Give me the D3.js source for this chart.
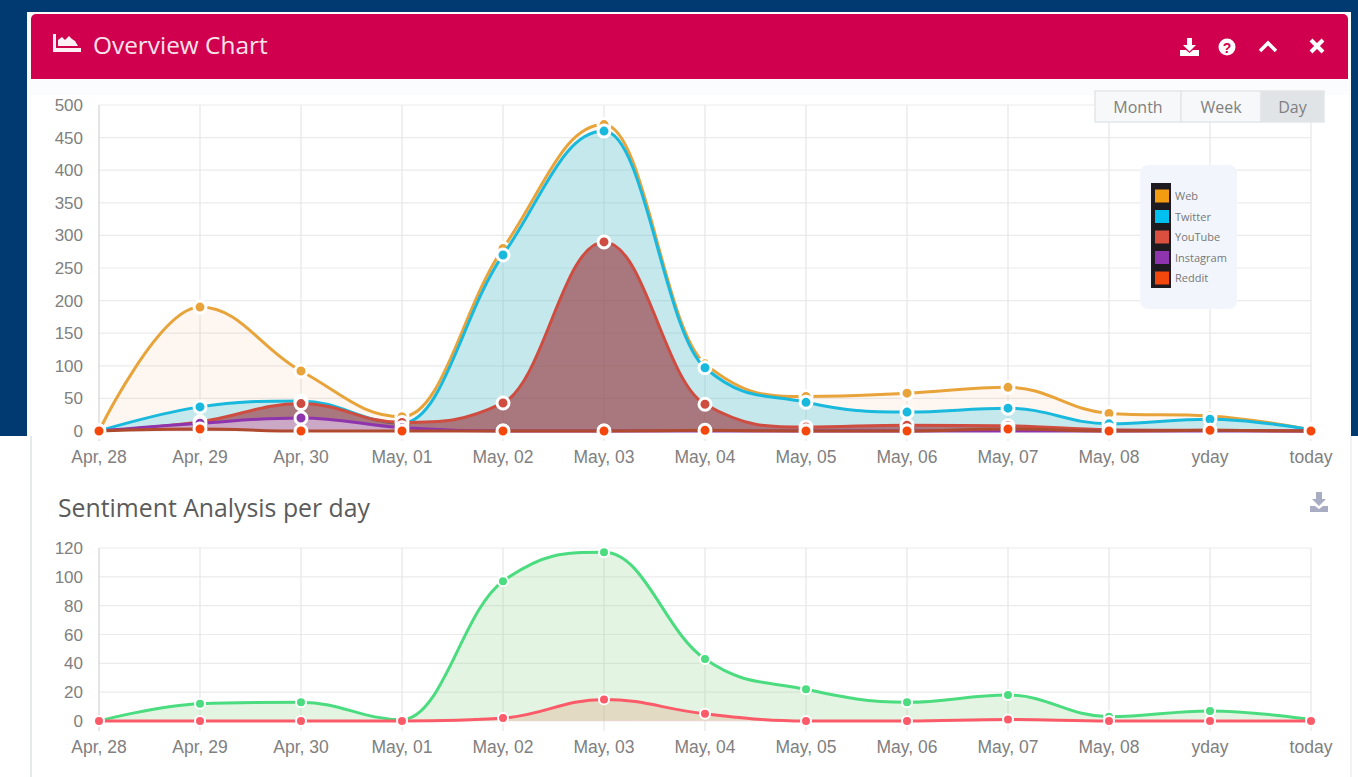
<!DOCTYPE html>
<html>
<head>
<meta charset="utf-8">
<script src="https://cdn.jsdelivr.net/npm/d3@7"></script>
<style>
    html, body { margin: 0; padding: 0; background: #fff; overflow: hidden; }
    svg { display: block; }
    .tick-label { font-family: "Liberation Sans", Arial, sans-serif; fill: #808080; }
</style>
</head>
<body>
<svg id="page" width="1358" height="777"></svg>
<script>
// x axis categories
const days = ["Apr, 28", "Apr, 29", "Apr, 30", "May, 01", "May, 02", "May, 03", "May, 04", "May, 05", "May, 06", "May, 07", "May, 08", "yday", "today"];

// overview chart values
const webValues = [0, 190, 92, 22, 280, 470, 103, 53, 58, 67, 27, 23, 2];
const twitterValues = [0, 37, 46, 12, 270, 460, 97, 44, 29, 35, 11, 18, 2];
const youtubeValues = [0, 14, 42, 13, 43, 290, 41, 6, 9, 8, 2, 1, 0];
const instagramValues = [0, 12, 20, 5, 0, 0, 0, 0, 0, 0, 0, 0, 0];
const redditValues = [0, 3, 0, 0, 0, 0, 1, 0, 0, 3, 0, 1, 0];
const overviewTicks = [0, 50, 100, 150, 200, 250, 300, 350, 400, 450, 500];

// sentiment chart values
const positiveValues = [0, 12, 13, 1, 97, 117, 43, 22, 13, 18, 3, 7, 1];
const negativeValues = [0, 0, 0, 0, 2, 15, 5, 0, 0, 1, 0, 0, 0];
const sentimentTicks = [0, 20, 40, 60, 80, 100, 120];

const legendNames = ["Web", "Twitter", "YouTube", "Instagram", "Reddit"];
const legendColors = ["#f39c12", "#00c0ef", "#d9503f", "#8e35ad", "#f4470b"];
const rangeButtons = ["Month", "Week", "Day"];

const svg = d3.select("#page");

// Same spline highcharts uses, wrapped as a d3 curve
function splineCurve(context) {
    let pts;
    return {
        areaStart() {},
        areaEnd() {},
        lineStart() { pts = []; },
        point(x, y) { pts.push([+x, +y]); },
        lineEnd() {
            const n = pts.length;
            const conts = pts.map((p, i) => {
                if (i === 0 || i === n - 1) return { lx: p[0], ly: p[1], rx: p[0], ry: p[1] };
                const [x, y] = p, [px, py] = pts[i - 1], [nx, ny] = pts[i + 1];
                const lx = (1.5 * x + px) / 2.5, rx = (1.5 * x + nx) / 2.5;
                let ly = (1.5 * y + py) / 2.5, ry = (1.5 * y + ny) / 2.5;
                const correction = (ry - ly) * (rx - x) / (rx - lx) + y - ry;
                ly += correction;
                ry += correction;
                if (ly > py && ly > y) { ly = Math.max(py, y); ry = 2 * y - ly; }
                else if (ly < py && ly < y) { ly = Math.min(py, y); ry = 2 * y - ly; }
                if (ry > ny && ry > y) { ry = Math.max(ny, y); ly = 2 * y - ry; }
                else if (ry < ny && ry < y) { ry = Math.min(ny, y); ly = 2 * y - ry; }
                return { lx, ly, rx, ry };
            });
            pts.forEach((p, i) => {
                if (i === 0) context.moveTo(p[0], p[1]);
                else context.bezierCurveTo(conts[i - 1].rx, conts[i - 1].ry, conts[i].lx, conts[i].ly, p[0], p[1]);
            });
        }
    };
}

function drawChart(top, bottom, ticks, series, marker) {
    const g = svg.append("g");
    const xScale = d3.scalePoint().domain(days).range([99, 1311]);
    const yScale = d3.scaleLinear().domain([0, d3.max(ticks)]).range([bottom, top]);

    // horizontal grid
    g.append("g").selectAll("line").data(ticks).enter().append("line")
        .attr("x1", 99).attr("x2", 1311)
        .attr("y1", d => yScale(d)).attr("y2", d => yScale(d))
        .attr("stroke", "#ebebeb").attr("stroke-width", 1.2);

    // vertical grid + tick marks
    g.append("g").selectAll("line").data(days).enter().append("line")
        .attr("x1", d => xScale(d)).attr("x2", d => xScale(d))
        .attr("y1", top).attr("y2", bottom + 10)
        .attr("stroke", (d, i) => i === 0 ? "#d2d2d2" : "#e6e6e6").attr("stroke-width", 1.2);

    g.append("g").selectAll("text").data(ticks).enter().append("text")
        .attr("class", "tick-label")
        .attr("font-size", 17)
        .attr("x", 83).attr("y", d => yScale(d) + 6)
        .attr("text-anchor", "end")
        .text(d => d);

    g.append("g").selectAll("text").data(days).enter().append("text")
        .attr("class", "tick-label")
        .attr("font-size", 17.5)
        .attr("x", d => xScale(d)).attr("y", bottom + 32)
        .attr("text-anchor", "middle")
        .text(d => d);

    const line = d3.line()
        .x((d, i) => xScale(days[i]))
        .y(d => yScale(d))
        .curve(splineCurve);

    const area = d3.area()
        .x((d, i) => xScale(days[i]))
        .y0(yScale(0))
        .y1(d => yScale(d))
        .curve(splineCurve);

    for (const s of series) {
        const sg = g.append("g");
        sg.append("path").attr("d", area(s.values))
            .attr("fill", s.fill).attr("fill-opacity", s.fillOpacity);
        sg.append("path").attr("d", line(s.values))
            .attr("fill", "none").attr("stroke", s.lineColor || s.color).attr("stroke-width", 3);
        sg.selectAll("circle").data(s.values).enter().append("circle")
            .attr("cx", (d, i) => xScale(days[i]))
            .attr("cy", d => yScale(d))
            .attr("r", marker.r)
            .attr("fill", s.color)
            .attr("stroke", "#fff").attr("stroke-width", marker.ring);
    }
}

// Page background, the screenshot is cut off at y=436 by a white block
svg.append("rect").attr("width", 1358).attr("height", 436).attr("fill", "#003a70");
svg.append("rect").attr("x", 27).attr("y", 12).attr("width", 1324).attr("height", 424).attr("fill", "#fafcfe");
svg.append("rect").attr("x", 31).attr("y", 95).attr("width", 1317).attr("height", 341).attr("fill", "#fff");
svg.append("rect").attr("x", 31).attr("y", 436).attr("width", 1320).attr("height", 341).attr("fill", "#fff");
svg.append("line").attr("x1", 31).attr("x2", 31).attr("y1", 436).attr("y2", 777).attr("stroke", "#e6e9ec").attr("stroke-width", 2);
svg.append("line").attr("x1", 1351).attr("x2", 1351).attr("y1", 436).attr("y2", 777).attr("stroke", "#f0f2f4").attr("stroke-width", 2);

// Header
svg.append("path")
    .attr("d", "M31,79V19a5,5 0 0 1 5,-5H1343a5,5 0 0 1 5,5V79Z")
    .attr("fill", "#d0004f");
svg.append("text")
    .attr("x", 93).attr("y", 54)
    .attr("font-family", "'Open Sans', sans-serif").attr("font-size", 24.4)
    .attr("fill", "#fbe3ec")
    .text("Overview Chart");

// header icons
svg.append("path").attr("d", "M53,34h3v14h25v4H53Z M58,46V40l4,-3 3,3 4,-4 3,3 3,2 3,5Z").attr("fill", "#fdf0f5");
svg.append("path").attr("d", "M1187,38h5v7h4l-6.5,6.5 -6.5,-6.5h4Z M1180,50h6l3.500,3 3.500,-3h6v6h-19Z").attr("fill", "#fff");
svg.append("circle").attr("cx", 1227).attr("cy", 47).attr("r", 8.5).attr("fill", "#fff");
svg.append("text").attr("x", 1227).attr("y", 52.500).attr("text-anchor", "middle")
    .attr("font-family", "'Liberation Sans', sans-serif").attr("font-weight", "bold").attr("font-size", 14)
    .attr("fill", "#d0004f").text("?");
svg.append("path").attr("d", "M1260,51l8,-8 8,8").attr("fill", "none").attr("stroke", "#fff").attr("stroke-width", 3.500);
svg.append("path").attr("d", "M1311,40l12,12M1323,40l-12,12").attr("fill", "none").attr("stroke", "#fff").attr("stroke-width", 4);

drawChart(105, 431, overviewTicks, [
    { values: webValues, color: "#e8a43a", fill: "#f58a3c", fillOpacity: 0.07 },
    { values: twitterValues, color: "#19b9dd", fill: "#4fcbe2", fillOpacity: 0.33 },
    { values: youtubeValues, color: "#cf4d40", fill: "#96272f", fillOpacity: 0.58 },
    { values: instagramValues, color: "#8e35ad", fill: "#d8b8e0", fillOpacity: 0.75 },
    { values: redditValues, color: "#f4470b", lineColor: "#b04a2e", fill: "#f4470b", fillOpacity: 0.1 }
], { r: 6, ring: 3 });

drawChart(548, 721, sentimentTicks, [
    { values: positiveValues, color: "#4bdc80", fill: "#8fd98a", fillOpacity: 0.25 },
    { values: negativeValues, color: "#fb5b68", fill: "#e28a6a", fillOpacity: 0.25 }
], { r: 5, ring: 2 });

// Range buttons
const buttonEdges = [1095, 1181, 1261, 1324];
const buttons = svg.append("g").selectAll("g").data(rangeButtons).enter().append("g");
buttons.append("rect")
    .attr("x", (d, i) => buttonEdges[i]).attr("y", 91)
    .attr("width", (d, i) => buttonEdges[i + 1] - buttonEdges[i]).attr("height", 31)
    .attr("fill", (d, i) => i === 2 ? "#e1e4e7" : "#f7f8f9")
    .attr("stroke", "#e4e6e8").attr("stroke-width", 1.5);
buttons.append("text")
    .attr("x", (d, i) => (buttonEdges[i] + buttonEdges[i + 1]) / 2).attr("y", 113)
    .attr("text-anchor", "middle")
    .attr("font-family", "'Open Sans', sans-serif").attr("font-size", 16)
    .attr("fill", "#808080")
    .text(d => d);

// Legend
const legend = svg.append("g");
legend.append("rect").attr("x", 1140).attr("y", 165).attr("width", 97).attr("height", 144).attr("rx", 8).attr("fill", "#f2f6fc");
legend.append("rect").attr("x", 1151).attr("y", 183).attr("width", 20).attr("height", 105).attr("fill", "#1d1a20");
const legendY = d3.scalePoint().domain(legendNames).range([196, 278]);
legend.selectAll(".swatch").data(legendNames).enter().append("rect")
    .attr("class", "swatch")
    .attr("x", 1155).attr("y", d => legendY(d) - 6.5)
    .attr("width", 14).attr("height", 13)
    .attr("fill", (d, i) => legendColors[i]);
legend.selectAll("text").data(legendNames).enter().append("text")
    .attr("x", 1175).attr("y", d => legendY(d) + 4)
    .attr("font-family", "'Open Sans', sans-serif").attr("font-size", 11)
    .attr("fill", "#777")
    .text(d => d);

// Sentiment title and its download icon
svg.append("text")
    .attr("x", 58).attr("y", 517)
    .attr("font-family", "'Open Sans', sans-serif").attr("font-size", 24.8)
    .attr("fill", "#5b5b5b")
    .text("Sentiment Analysis per day");
svg.append("path").attr("d", "M1316,492h6v7h4l-7,7 -7,-7h4Z M1310,506h5l4,3 4,-3h5v6h-18Z").attr("fill", "#a9adc4");
</script>
</body>
</html>
